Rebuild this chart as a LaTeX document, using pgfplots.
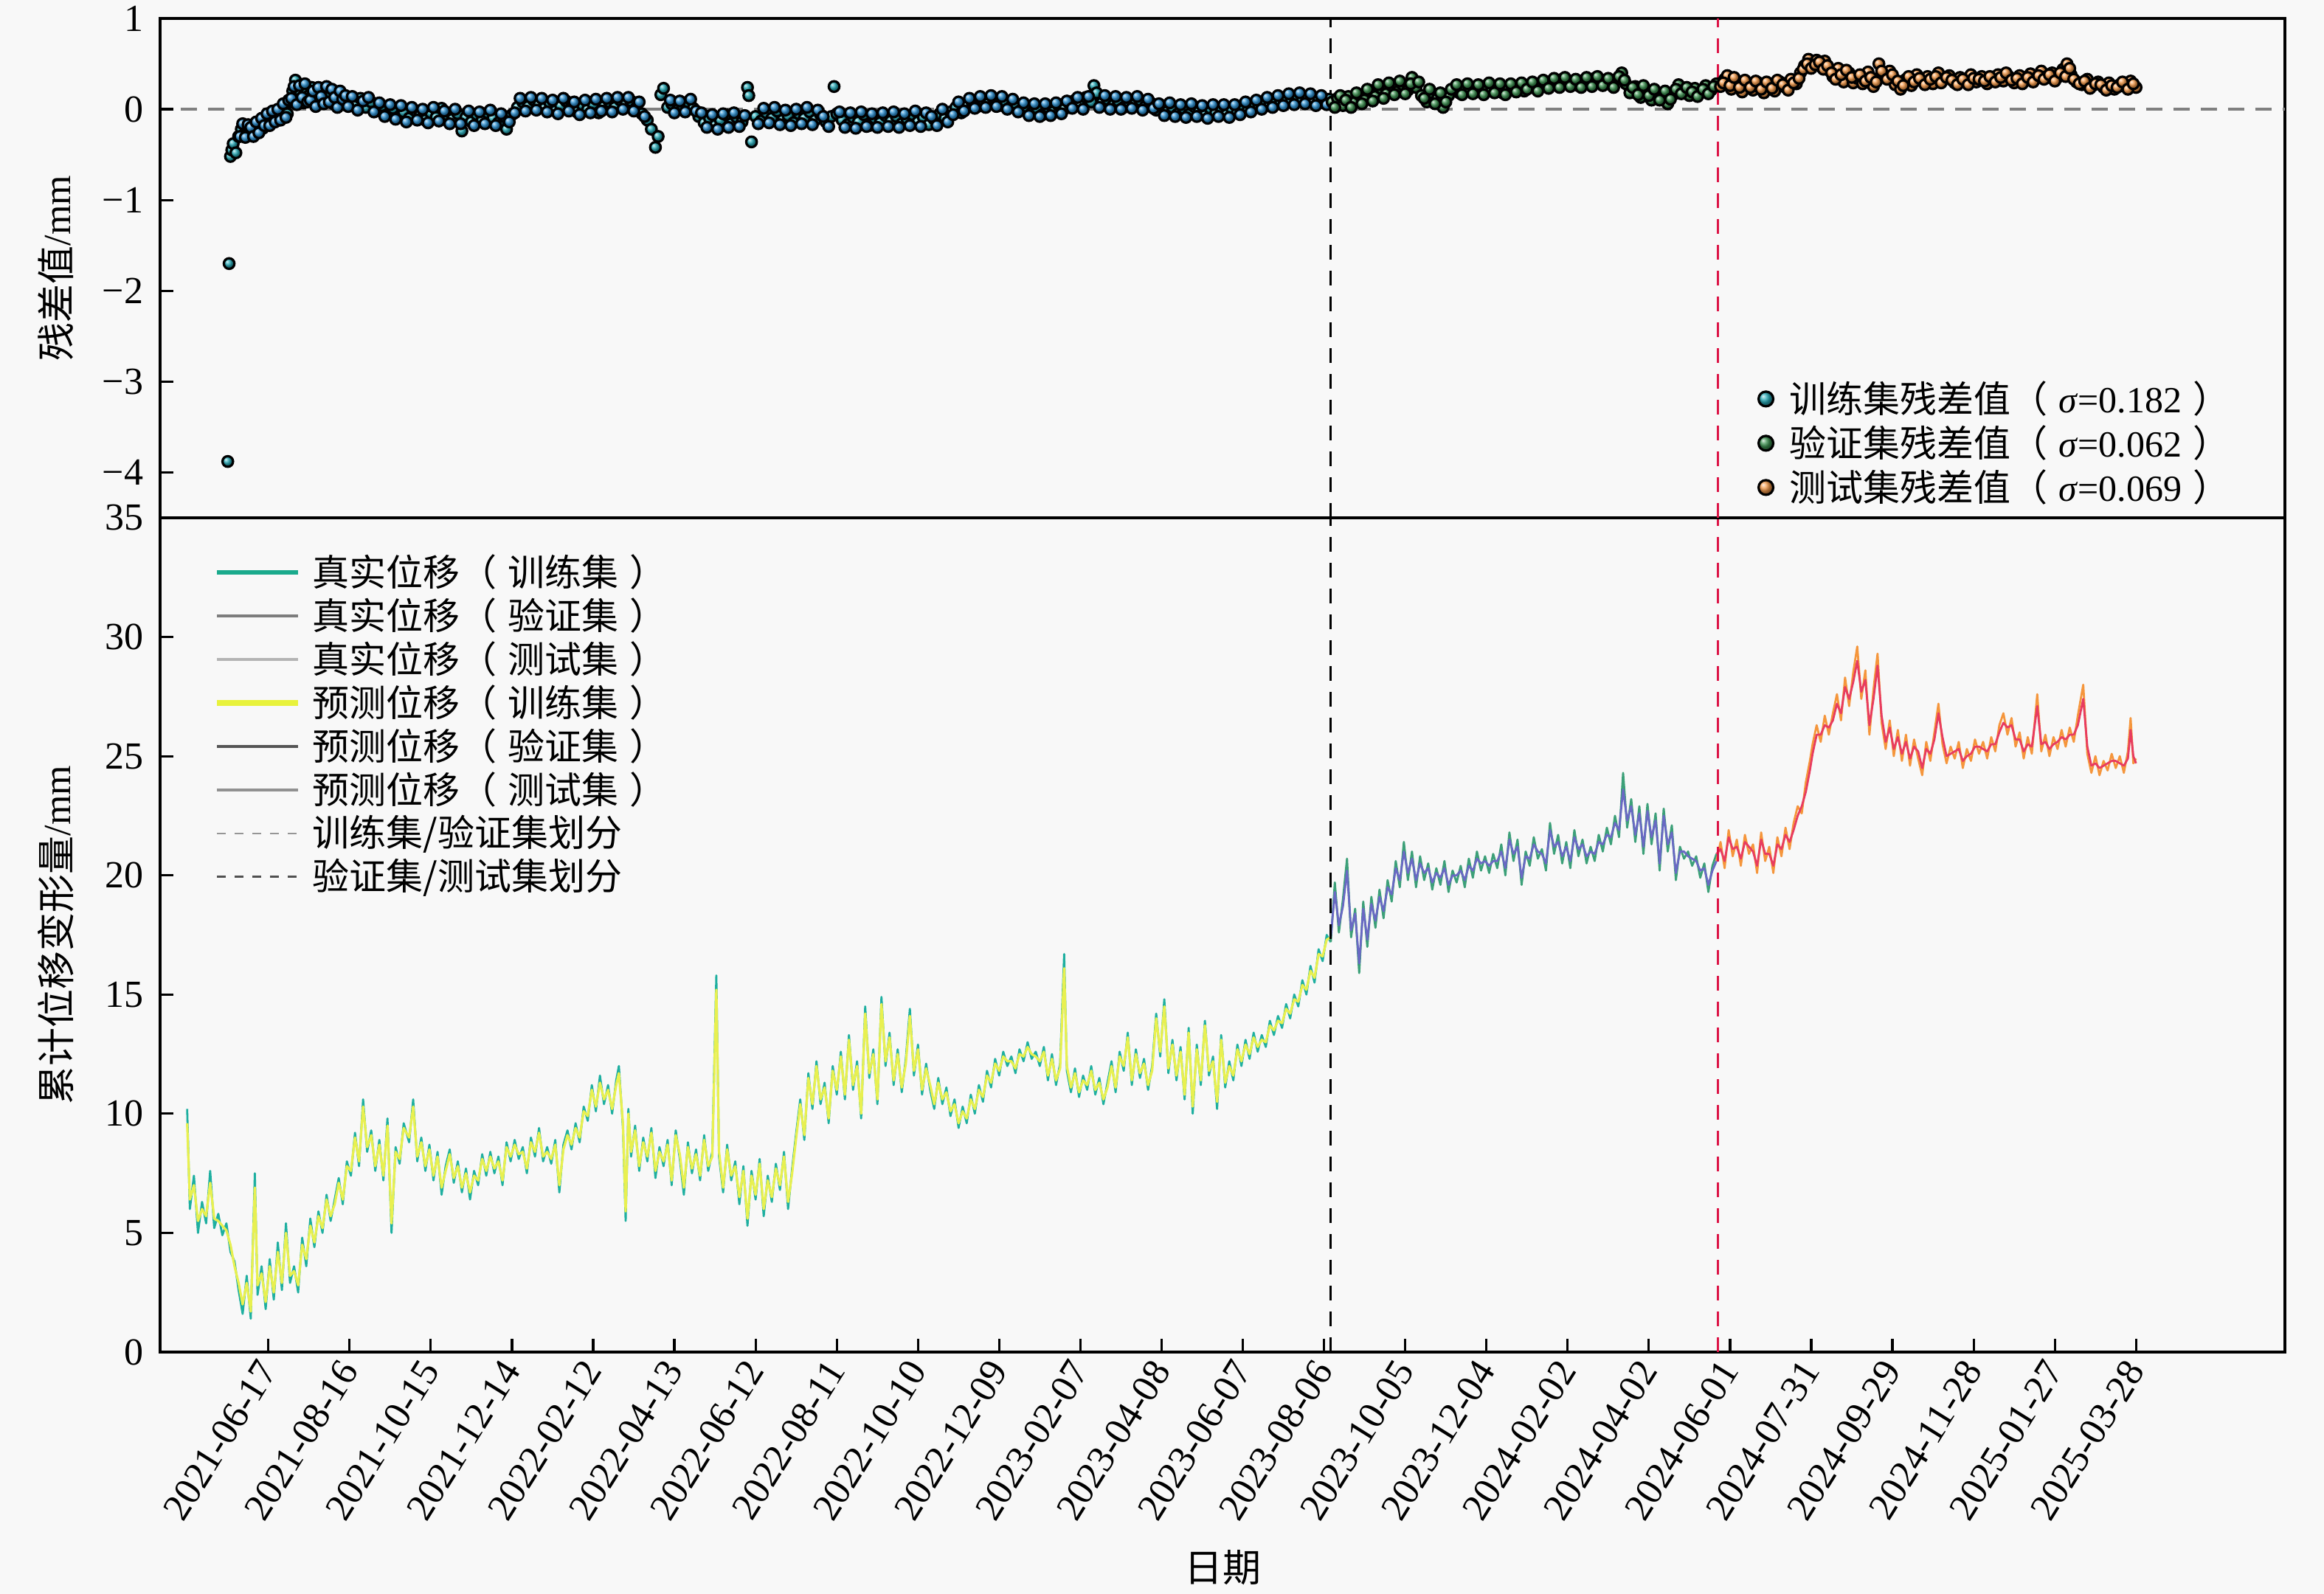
\documentclass[border=0pt]{standalone}
\usepackage{fontspec}
\setmainfont{Liberation Serif}
\newfontfamily\cjk{Noto Sans CJK SC}
\usepackage{pgfplots}
\pgfplotsset{compat=1.18}
\usepackage{pgfplotstable}
\usetikzlibrary{plotmarks}

\definecolor{bgc}{RGB}{248,248,248}
\definecolor{trainball}{RGB}{40,172,185}
\definecolor{trainball2}{RGB}{45,145,210}
\definecolor{valball}{RGB}{60,145,80}
\definecolor{testball}{RGB}{245,155,75}
\definecolor{truetrain}{RGB}{30,175,160}
\definecolor{predtrain}{RGB}{232,240,80}
\definecolor{trueval}{RGB}{60,160,120}
\definecolor{predval}{RGB}{105,105,195}
\definecolor{truetest}{RGB}{245,150,60}
\definecolor{predtest}{RGB}{232,60,95}
\definecolor{splitred}{RGB}{220,20,70}
\definecolor{zerogray}{RGB}{128,128,128}

\pgfplotstableread{
d t p
-60 10.2 9.6
-58 6.0 6.4
-55 7.4 7.0
-52 5.0 5.5
-49 6.3 6.0
-46 5.4 5.7
-43 7.6 7.1
-40 5.2 5.6
-37 5.8 5.5
-34 4.9 5.3
-31 5.4 5.1
-28 4.2 4.5
-25 3.8 3.6
-22 2.6 2.9
-19 1.6 2.0
-16 3.2 2.9
-13 1.4 1.7
-10 7.5 6.9
-8 2.4 2.8
-5 3.6 3.3
-2 1.8 2.1
1 3.9 3.6
4 2.2 2.5
7 4.6 4.2
10 2.6 2.9
13 5.4 5.0
16 2.9 3.2
19 3.6 3.4
22 2.5 2.8
25 4.8 4.5
28 3.6 3.9
31 5.6 5.3
34 4.4 4.6
37 5.9 5.7
40 5.0 5.2
43 6.6 6.4
46 5.5 5.7
49 6.4 6.2
52 7.3 7.1
55 6.2 6.4
58 8.0 7.8
61 7.4 7.6
64 9.2 9.0
67 7.8 8.0
70 10.6 10.3
73 8.4 8.6
76 9.3 9.1
79 7.6 7.8
82 8.9 8.7
85 7.2 7.4
88 9.8 9.5
91 5.0 5.4
94 8.6 8.4
97 7.9 8.1
100 9.6 9.4
104 8.8 9.0
107 10.6 10.3
110 8.0 8.2
113 9.0 8.8
116 7.6 7.8
119 8.7 8.5
122 7.2 7.4
125 8.4 8.2
128 6.6 6.9
131 7.8 7.6
134 8.5 8.3
137 7.1 7.3
140 8.0 7.8
143 6.7 6.9
146 7.7 7.5
149 6.4 6.7
152 7.6 7.4
155 7.0 7.2
158 8.3 8.1
161 7.4 7.6
164 8.4 8.2
167 7.5 7.7
170 8.2 8.0
173 7.0 7.2
176 8.8 8.6
179 8.0 8.2
182 8.9 8.7
185 8.1 8.3
188 8.6 8.4
191 7.5 7.7
194 9.0 8.8
197 8.2 8.4
200 9.4 9.2
203 8.0 8.2
206 8.6 8.4
209 7.9 8.1
212 8.9 8.7
215 6.7 7.0
218 8.7 8.5
221 9.3 9.1
224 8.5 8.7
227 9.6 9.4
230 8.8 9.0
233 10.3 10.1
236 9.7 9.9
239 11.2 11.0
242 10.1 10.3
245 11.6 11.3
248 10.4 10.6
251 11.2 11.0
254 10.0 10.2
257 11.4 11.2
259 12.0 11.7
262 9.4 9.6
264 5.5 5.9
266 10.2 10.0
268 8.2 8.4
271 9.5 9.3
274 7.6 7.8
277 9.0 8.8
280 8.0 8.2
283 9.4 9.2
286 7.3 7.6
289 8.6 8.4
292 7.8 8.0
295 8.9 8.7
298 7.0 7.2
301 9.3 9.1
304 8.1 8.3
307 6.6 6.9
310 8.8 8.6
313 7.5 7.7
316 8.5 8.3
319 7.2 7.4
322 9.1 8.9
325 7.6 7.8
328 8.4 8.2
331 15.8 15.2
333 8.2 8.4
336 6.7 6.9
339 8.7 8.5
342 7.2 7.4
345 8.0 7.8
348 6.2 6.5
351 7.8 7.6
354 5.3 5.6
357 7.6 7.4
360 6.4 6.6
363 8.1 7.9
366 5.7 6.0
369 7.4 7.2
372 6.3 6.5
375 7.9 7.7
378 6.8 7.0
381 8.4 8.2
384 6.0 6.3
387 7.7 7.5
390 9.2 9.0
393 10.6 10.4
396 8.9 9.1
399 11.7 11.5
402 10.2 10.4
405 12.2 12.0
408 10.4 10.6
411 11.3 11.1
414 9.6 9.8
417 12.0 11.8
420 10.8 11.0
423 12.6 12.4
426 10.6 10.8
429 13.3 13.1
432 11.0 11.2
435 12.2 12.0
438 9.8 10.0
441 14.5 14.2
444 11.5 11.7
447 12.7 12.5
450 10.4 10.6
453 14.9 14.6
456 12.0 12.2
459 13.4 13.2
462 11.2 11.4
465 12.7 12.5
468 10.9 11.1
471 12.3 12.1
474 14.4 14.1
477 11.6 11.8
480 12.9 12.7
483 10.8 11.0
486 12.1 11.9
489 11.0 11.2
492 10.2 10.4
495 11.5 11.3
498 10.4 10.6
501 11.1 10.9
504 9.9 10.1
507 10.6 10.4
510 9.4 9.6
513 10.3 10.1
516 9.6 9.8
519 10.8 10.6
522 10.0 10.2
525 11.2 11.0
528 10.5 10.7
531 11.8 11.6
534 11.1 11.3
537 12.3 12.1
540 11.6 11.8
543 12.6 12.4
546 12.0 12.2
549 12.4 12.2
552 11.7 11.9
555 12.7 12.5
558 12.2 12.4
561 13.0 12.8
564 12.3 12.5
567 12.6 12.4
570 12.0 12.2
573 12.8 12.6
576 11.4 11.6
579 12.5 12.3
582 11.2 11.4
585 12.1 11.9
588 16.7 16.1
590 11.8 12.0
593 10.9 11.1
596 11.9 11.7
599 10.7 10.9
602 11.6 11.4
605 11.0 11.2
608 12.0 11.8
611 10.8 11.0
614 11.5 11.3
617 10.4 10.6
620 11.3 11.1
623 12.2 12.0
626 10.9 11.1
629 12.6 12.4
632 11.8 12.0
635 13.4 13.2
638 11.2 11.4
641 12.7 12.5
644 11.5 11.7
647 12.3 12.1
650 11.0 11.2
653 12.0 11.8
656 14.2 14.0
659 12.4 12.6
662 14.8 14.5
665 11.7 11.9
668 13.1 12.9
671 11.4 11.6
674 12.8 12.6
677 10.6 10.8
680 13.6 13.4
683 10.0 10.3
686 12.9 12.7
689 11.2 11.4
692 13.9 13.7
695 11.6 11.8
698 12.4 12.2
701 10.2 10.5
704 13.3 13.1
707 11.1 11.3
710 12.2 12.0
713 11.4 11.6
716 12.9 12.7
719 12.0 12.2
722 13.1 12.9
725 12.3 12.5
728 13.4 13.2
731 12.6 12.8
734 13.3 13.1
737 12.8 13.0
740 13.9 13.7
743 13.3 13.5
746 14.1 13.9
749 13.6 13.8
752 14.6 14.4
755 14.0 14.2
758 15.0 14.8
761 14.5 14.7
764 15.6 15.4
767 15.0 15.2
770 16.2 16.0
773 15.5 15.7
776 16.9 16.7
779 16.4 16.6
782 17.5 17.3
785 17.2 17.4
}\trainTbl

\pgfplotstableread{
d t p
785 17.2 17.4
788 19.7 19.3
791 17.6 17.9
794 19.0 18.7
797 20.7 20.2
800 17.4 17.7
803 18.6 18.4
806 15.9 16.3
809 18.9 18.6
812 17.0 17.3
815 19.1 18.8
818 17.8 18.1
821 19.4 19.1
824 18.2 18.5
827 19.8 19.5
830 18.9 19.2
833 20.6 20.3
836 19.5 19.8
839 21.4 21.0
842 19.8 20.1
845 21.0 20.7
848 19.5 19.8
851 20.8 20.5
854 19.8 20.1
857 20.5 20.3
860 19.4 19.7
863 20.3 20.1
866 19.6 19.9
869 20.6 20.3
872 19.3 19.6
875 20.2 20.0
878 19.7 20.0
881 20.4 20.2
884 19.5 19.8
887 20.7 20.4
890 19.9 20.2
893 21.0 20.7
896 20.2 20.5
899 20.8 20.6
902 20.1 20.4
905 20.9 20.6
908 20.3 20.6
911 21.3 21.0
914 20.0 20.3
917 21.8 21.5
920 20.6 20.9
923 21.5 21.2
926 19.6 19.9
929 21.0 20.8
932 20.4 20.7
935 21.6 21.3
938 20.7 21.0
941 21.1 20.9
944 20.2 20.5
947 22.2 21.9
950 20.9 21.2
953 21.7 21.4
956 20.5 20.8
959 21.4 21.2
962 20.3 20.6
965 21.9 21.6
968 20.8 21.1
971 21.5 21.3
974 20.5 20.8
977 21.2 21.0
980 20.6 20.9
983 21.7 21.4
986 21.0 21.3
989 22.0 21.7
992 21.3 21.6
995 22.5 22.2
998 21.6 21.9
1001 24.3 23.6
1004 22.0 22.3
1007 23.2 22.9
1010 21.4 21.7
1013 22.9 22.6
1016 20.9 21.2
1019 23.0 22.7
1022 21.3 21.6
1025 22.6 22.3
1028 20.2 20.5
1031 22.8 22.5
1034 21.0 21.3
1037 22.1 21.8
1040 19.8 20.1
1043 21.2 21.0
1046 20.7 21.0
1049 21.0 20.8
1052 20.4 20.7
1055 20.8 20.6
1058 19.9 20.2
1061 20.5 20.3
1064 19.3 19.6
1067 20.4 20.2
1070 20.9 20.6
}\valTbl

\pgfplotstableread{
d t p
1070 20.6 20.9
1073 21.4 21.1
1076 20.3 20.6
1079 21.9 21.6
1082 20.8 21.1
1085 21.5 21.2
1088 20.4 20.7
1091 21.7 21.4
1094 20.9 21.2
1097 21.3 21.0
1100 20.1 20.4
1103 21.8 21.5
1106 20.6 20.9
1109 21.2 20.9
1112 20.1 20.4
1115 21.6 21.3
1118 20.8 21.1
1121 22.0 21.7
1124 21.1 21.4
1127 22.2 21.9
1130 22.9 22.5
1133 22.6 22.9
1136 23.9 23.5
1139 24.8 24.4
1141 25.5 25.1
1144 26.3 25.9
1147 25.6 25.9
1150 26.7 26.3
1153 25.9 26.2
1156 26.8 26.5
1159 27.6 27.2
1162 26.5 26.8
1165 28.3 27.9
1168 27.1 27.4
1171 28.5 28.1
1174 29.6 29.0
1177 27.4 27.7
1180 28.6 28.2
1183 25.9 26.3
1186 27.8 27.4
1189 29.3 28.8
1192 26.4 26.7
1195 25.3 25.6
1198 26.5 26.2
1201 25.0 25.3
1204 26.1 25.8
1207 24.8 25.1
1210 25.9 25.6
1213 24.6 24.9
1216 25.7 25.4
1219 24.9 25.2
1222 24.2 24.5
1225 25.6 25.3
1228 24.8 25.1
1231 26.0 25.7
1234 27.2 26.8
1237 25.5 25.8
1240 24.7 25.0
1243 25.4 25.1
1246 24.9 25.2
1249 25.6 25.3
1252 24.5 24.8
1255 25.3 25.0
1258 24.8 25.1
1261 25.7 25.4
1264 25.1 25.4
1267 25.6 25.3
1270 24.9 25.2
1273 25.8 25.5
1276 25.2 25.5
1279 26.3 26.0
1282 26.8 26.4
1285 25.9 26.2
1288 26.6 26.3
1291 25.4 25.7
1294 26.0 25.7
1297 24.9 25.2
1300 25.8 25.5
1303 25.1 25.4
1307 27.6 27.1
1310 25.2 25.5
1313 25.9 25.6
1316 25.0 25.3
1319 25.8 25.5
1322 25.3 25.6
1325 26.1 25.8
1328 25.4 25.7
1331 26.2 25.9
1334 25.6 25.9
1337 26.7 26.3
1341 28.0 27.4
1344 25.1 25.4
1347 24.3 24.6
1350 25.0 24.7
1353 24.2 24.5
1356 24.8 24.6
1359 24.4 24.7
1362 25.1 24.8
1365 24.5 24.8
1368 25.0 24.7
1371 24.3 24.6
1374 25.2 24.9
1376 26.6 26.1
1378 24.7 25.0
1380 24.9 24.7
}\testTbl

\newcommand{\lblfont}{\fontsize{13}{15.6}\selectfont}
\newcommand{\legfont}{\fontsize{12.5}{14.75}\selectfont}
\newcommand{\lp}{{\cjk （}\hspace{0.3em}}
\newcommand{\rp}{\hspace{0.3em}{\cjk ）}}

\begin{document}
\begin{tikzpicture}
\path[use as bounding box, fill=bgc] (-54.25pt,-82pt) rectangle (733.25pt,458.25pt);

% ---------------- bottom panel ----------------
\begin{axis}[
  at={(0pt,0pt)}, anchor=south west,
  scale only axis, width=720pt, height=282.75pt,
  xmin=-80, xmax=1490, ymin=0, ymax=35,
  axis line style={line width=0.8pt},
  line width=0.8pt,
  tick pos=left, tick align=inside,
  major tick length=4.6pt,
  every tick/.style={black, line width=0.8pt},
  xtick={0,60,...,1380},
  xticklabels={2021-06-17,2021-08-16,2021-10-15,2021-12-14,2022-02-12,2022-04-13,2022-06-12,2022-08-11,2022-10-10,2022-12-09,2023-02-07,2023-04-08,2023-06-07,2023-08-06,2023-10-05,2023-12-04,2024-02-02,2024-04-02,2024-06-01,2024-07-31,2024-09-29,2024-11-28,2025-01-27,2025-03-28},
  ytick={0,5,...,35},
  /pgf/number format/assume math mode=true,
  tick label style={font=\lblfont},
  xticklabel style={rotate=58, anchor=east, yshift=-2pt},
  yticklabel style={xshift=-2pt},
  xlabel={\cjk 日期},
  ylabel={{\cjk 累计位移变形量}/mm},
  label style={font=\lblfont},
  xlabel style={at={(axis description cs:0.5,0)}, anchor=center, yshift=-73pt},
  ylabel style={at={(axis description cs:0,0.5)}, anchor=center, yshift=35.25pt},
  legend style={draw=none, fill=none, at={(rel axis cs:0,1)}, anchor=north west,
    xshift=15pt, yshift=-8pt, font=\legfont, row sep=-1.45pt,
    /tikz/every odd column/.append style={column sep=2pt}},
  legend cell align=left,
  legend image code/.code={\draw[#1] (0pt,0pt) -- (27.5pt,0pt);},
]
\addplot[truetrain, line width=0.7pt, line join=round, forget plot] table[x=d,y=t]{\trainTbl};
\addplot[predtrain, line width=0.8pt, line join=round, forget plot] table[x=d,y=p]{\trainTbl};
\addplot[trueval, line width=0.7pt, line join=round, forget plot] table[x=d,y=t]{\valTbl};
\addplot[predval, line width=0.7pt, line join=round, forget plot] table[x=d,y=p]{\valTbl};
\addplot[truetest, line width=0.7pt, line join=round, forget plot] table[x=d,y=t]{\testTbl};
\addplot[predtest, line width=0.7pt, line join=round, forget plot] table[x=d,y=p]{\testTbl};
\addplot[black, line width=0.75pt, dash pattern=on 5pt off 3.75pt, forget plot] coordinates {(785,0) (785,35)};
\addplot[splitred, line width=0.75pt, dash pattern=on 5pt off 3.75pt, forget plot] coordinates {(1071,0) (1071,35)};

\addlegendimage{line width=1.3pt, color={rgb,255:red,26;green,170;blue,140}}
\addlegendentry{{\cjk 真实位移}\lp{\cjk 训练集}\rp}
\addlegendimage{line width=0.8pt, color={rgb,255:red,125;green,125;blue,125}}
\addlegendentry{{\cjk 真实位移}\lp{\cjk 验证集}\rp}
\addlegendimage{line width=0.9pt, color={rgb,255:red,180;green,180;blue,180}}
\addlegendentry{{\cjk 真实位移}\lp{\cjk 测试集}\rp}
\addlegendimage{line width=1.8pt, color={rgb,255:red,232;green,242;blue,60}}
\addlegendentry{{\cjk 预测位移}\lp{\cjk 训练集}\rp}
\addlegendimage{line width=0.8pt, color={rgb,255:red,85;green,85;blue,85}}
\addlegendentry{{\cjk 预测位移}\lp{\cjk 验证集}\rp}
\addlegendimage{line width=1.2pt, color={rgb,255:red,145;green,145;blue,145}}
\addlegendentry{{\cjk 预测位移}\lp{\cjk 测试集}\rp}
\addlegendimage{line width=0.6pt, color={rgb,255:red,150;green,150;blue,150}, dash pattern=on 3pt off 3pt}
\addlegendentry{{\cjk 训练集/验证集划分}}
\addlegendimage{line width=0.6pt, color={rgb,255:red,80;green,80;blue,80}, dash pattern=on 3pt off 3pt}
\addlegendentry{{\cjk 验证集/测试集划分}}
\end{axis}

% ---------------- top panel ----------------
\begin{axis}[
  at={(0pt,282.75pt)}, anchor=south west,
  scale only axis, width=720pt, height=169.25pt,
  xmin=-80, xmax=1490, ymin=-4.5, ymax=1,
  axis line style={line width=0.8pt},
  line width=0.8pt,
  tick pos=left, tick align=inside,
  major tick length=4.6pt,
  every tick/.style={black, line width=0.8pt},
  xtick=\empty,
  ytick={-4,-3,-2,-1,0,1},
  yticklabels={−4,−3,−2,−1,0,1},
  tick label style={font=\lblfont},
  yticklabel style={xshift=-2pt},
  ylabel={{\cjk 残差值}/mm},
  label style={font=\lblfont},
  ylabel style={at={(axis description cs:0,0.5)}, anchor=center, yshift=35.25pt},
  legend style={draw=none, fill=none, at={(rel axis cs:0.747,0.30)}, anchor=north west,
    font=\legfont, row sep=-1.2pt,
    /tikz/every odd column/.append style={column sep=3pt}},
  legend cell align=left,
  legend image code/.code={\draw[#1] plot coordinates {(0pt,0pt)};},
]
\addplot[zerogray, line width=0.9pt, dash pattern=on 5.5pt off 3.75pt, forget plot] coordinates {(-65,0) (1490,0)};

\addplot[only marks, mark=ball, mark size=1.8pt, mark options={ball color=trainball}, forget plot] coordinates {
(-30,-3.88) (-29,-1.70) (-28,-0.52) (-27,-0.45) (-26,-0.38) (-24,-0.48) (-22,-0.30) (-20,-0.22) (-18,-0.28) (-16,-0.19) (-14,-0.25) (-12,-0.27) (-10,-0.20) (-8,-0.24) (-6,-0.16) (-4,-0.21) (-2,-0.12) (0,-0.15) (2,-0.08) (4,-0.11) (6,-0.04) (8,-0.09) (10,-0.02) (12,0.03) (14,-0.05) (16,0.08) (18,0.20) (20,0.32) (22,0.12) (24,0.18) (26,0.07) (28,0.22) (30,0.15) (32,0.24) (34,0.10) (36,0.19) (38,0.08) (40,0.16) (42,0.21) (44,0.12) (46,0.18) (48,0.06) (50,0.14) (52,0.10) (54,0.17) (56,0.05) (58,0.12)
(60,0.10) (64,0.05) (68,0.12) (72,0.02) (76,0.08) (80,-0.02) (84,0.04) (88,-0.06) (92,0.01) (96,-0.09) (100,-0.03) (104,-0.10) (108,-0.01) (112,-0.07) (116,-0.12) (120,-0.04) (124,-0.09) (128,0.01) (132,-0.06) (136,-0.11) (140,-0.05) (143,-0.24) (146,-0.09) (150,-0.14) (154,-0.06) (158,-0.12) (162,-0.04) (166,-0.10) (170,-0.15) (174,-0.08) (176,-0.22) (180,-0.06) (184,0.02) (188,0.08) (192,0.03) (196,0.10) (200,0.05) (204,0.01) (208,0.07) (212,-0.02) (216,0.04) (220,0.09) (224,0.02) (228,-0.03) (232,0.05) (236,0.00) (240,0.06) (244,-0.04) (248,0.03) (252,0.08) (256,0.02) (260,0.10) (264,0.05) (268,0.09) (272,0.02) (276,-0.05) (280,-0.12) (283,-0.22) (286,-0.42) (288,-0.30) (290,0.16) (292,0.23) (295,0.02) (298,0.06) (302,-0.01) (306,0.04) (310,0.08) (314,0.01) (318,-0.08) (322,-0.15) (326,-0.10) (330,-0.18) (334,-0.12) (338,-0.06) (342,-0.16) (346,-0.09) (350,-0.14) (354,0.24) (355,0.15) (357,-0.36) (360,-0.08) (364,-0.13) (368,-0.04) (372,-0.10) (376,-0.02) (380,-0.12) (384,-0.07) (388,-0.15) (392,-0.05) (396,-0.10) (400,-0.03) (404,-0.12) (408,-0.06) (412,-0.14) (416,-0.08) (418,0.25) (420,-0.05) (424,-0.12) (428,-0.17) (432,-0.09) (436,-0.14) (440,-0.06) (444,-0.18) (448,-0.10) (452,-0.15) (456,-0.07) (460,-0.13) (464,-0.08) (468,-0.16) (472,-0.11) (476,-0.06) (480,-0.14) (484,-0.09) (488,-0.17) (492,-0.11) (496,-0.05) (500,-0.10) (504,-0.03) (508,0.02) (512,-0.04) (516,0.05) (520,0.08) (524,0.03) (528,0.10) (532,0.06) (536,0.12) (540,0.04) (544,0.09) (548,0.02) (552,0.06) (556,-0.01) (560,0.03) (564,-0.04) (568,0.01) (572,-0.06) (576,0.02) (580,-0.03) (584,0.04) (588,0.00) (592,0.06) (596,0.10) (600,0.05) (604,0.13) (608,0.08) (610,0.26) (612,0.18) (616,0.07) (620,0.11) (624,0.04) (628,0.09) (632,0.02) (636,0.08) (640,0.05) (644,0.10) (648,0.03) (652,0.07) (656,-0.01) (660,0.04) (664,-0.03) (668,0.02) (672,-0.05) (676,0.01) (680,-0.06) (684,0.03) (688,-0.02) (692,-0.07) (696,0.01) (700,-0.04) (704,0.02) (708,-0.06) (712,0.00) (716,-0.03) (720,0.04) (724,-0.01) (728,0.06) (732,0.02) (736,0.09) (740,0.04) (744,0.11) (748,0.07) (752,0.13) (756,0.09) (760,0.15) (764,0.10) (768,0.14) (772,0.08) (776,0.12) (780,0.07) (784,0.11)
};
\addplot[only marks, mark=ball, mark size=1.8pt, mark options={ball color=trainball2}, forget plot] coordinates {
(-21,-0.30) (-19,-0.16) (-17,-0.31) (-15,-0.17) (-13,-0.20) (-11,-0.30) (-9,-0.14) (-7,-0.26) (-5,-0.10) (-3,-0.18) (-1,-0.05) (1,-0.18) (3,-0.02) (5,-0.14) (7,0.00) (9,-0.12) (11,0.06) (13,-0.09) (15,0.10)
(17,0.12) (19,0.25) (21,0.05) (23,0.26) (25,0.13) (27,0.28) (29,0.08) (31,0.10) (33,0.20) (35,0.03) (37,0.24) (39,0.14) (41,0.06) (43,0.25) (45,0.08) (47,0.22) (49,0.13) (51,0.02) (53,0.20) (55,0.11) (57,0.15) (59,0.03)
(62,0.14) (66,-0.01) (70,0.09) (74,0.13) (78,-0.03) (82,0.07) (86,-0.08) (90,0.05) (94,-0.11) (98,0.04) (102,-0.14) (106,0.02) (110,-0.12) (114,0.00) (118,-0.15) (122,0.02) (126,-0.13) (130,-0.02) (134,-0.16) (138,0.00) (142,-0.16) (148,-0.02) (152,-0.18) (156,-0.03) (160,-0.16) (164,-0.01) (168,-0.18) (172,-0.05) (178,-0.14)
(182,-0.04) (186,0.12) (190,-0.02) (194,0.13) (198,-0.01) (202,0.12) (206,-0.03) (210,0.10) (214,-0.05) (218,0.12) (222,-0.02) (226,0.08) (230,-0.06) (234,0.10) (238,-0.04) (242,0.11) (246,-0.02) (250,0.12) (254,-0.03) (258,0.13) (262,0.00) (266,0.13) (270,-0.02) (274,0.08) (278,-0.08)
(297,0.10) (300,-0.04) (304,0.09) (308,-0.03) (312,0.11) (316,-0.02) (320,-0.04) (324,-0.20) (328,-0.06) (332,-0.22) (336,-0.05) (340,-0.20) (344,-0.04) (348,-0.19) (352,-0.07)
(362,-0.16) (366,0.01) (370,-0.15) (374,0.02) (378,-0.17) (382,-0.01) (386,-0.18) (390,0.00) (394,-0.16) (398,0.02) (402,-0.17) (406,-0.01) (410,-0.08) (414,-0.19)
(422,-0.03) (426,-0.20) (430,-0.04) (434,-0.21) (438,-0.03) (442,-0.19) (446,-0.05) (450,-0.20) (454,-0.04) (458,-0.19) (462,-0.03) (466,-0.20) (470,-0.05) (474,-0.18) (478,-0.02) (482,-0.19) (486,-0.04) (490,-0.08) (494,-0.18) (498,0.00) (502,-0.14)
(506,-0.06) (510,0.08) (514,-0.02) (518,0.12) (522,0.01) (526,0.14) (530,0.02) (534,0.15) (538,0.03) (542,0.14) (546,0.00) (550,0.11) (554,-0.03)
(558,0.07) (562,-0.07) (566,0.06) (570,-0.08) (574,0.06) (578,-0.07) (582,0.07) (586,-0.05) (590,0.09) (594,0.01) (598,0.13)
(602,0.00) (606,0.14) (614,0.02) (618,0.15) (622,0.00) (626,0.14) (630,0.00) (634,0.13) (638,0.01) (642,0.14) (646,-0.01) (650,0.11) (654,0.01)
(658,0.06) (662,-0.07) (666,0.07) (670,-0.08) (674,0.05) (678,-0.09) (682,0.06) (686,-0.08) (690,0.04) (694,-0.10) (698,0.05) (702,-0.08) (706,0.05) (710,-0.09) (714,0.05) (718,-0.06)
(722,0.08) (726,-0.03) (730,0.10) (734,0.00) (738,0.13) (742,0.02) (746,0.15) (750,0.04) (754,0.17) (758,0.05) (762,0.18) (766,0.06) (770,0.17) (774,0.04) (778,0.15) (782,0.05)
};

\addplot[only marks, mark=ball, mark size=1.8pt, mark options={ball color=valball}, forget plot] coordinates {
(786,0.08) (790,0.12) (794,0.04) (798,0.14) (802,0.07) (806,0.16) (810,0.10) (814,0.20) (818,0.14) (822,0.23) (826,0.17) (830,0.26) (834,0.19) (838,0.27) (842,0.21) (845,0.35) (848,0.24) (852,0.15) (856,0.08) (860,0.18) (864,0.12) (868,0.02) (872,0.15) (876,0.23) (880,0.18) (884,0.25) (888,0.20) (892,0.24) (896,0.19) (900,0.26) (904,0.21) (908,0.24) (912,0.18) (916,0.25) (920,0.22) (924,0.26) (928,0.20) (932,0.27) (936,0.23) (940,0.29) (944,0.26) (948,0.31) (952,0.27) (956,0.33) (960,0.28) (964,0.30) (968,0.26) (972,0.32) (976,0.28) (980,0.34) (984,0.29) (988,0.31) (992,0.27) (996,0.33) (1000,0.40) (1003,0.28) (1006,0.18) (1010,0.25) (1014,0.13) (1018,0.21) (1022,0.10) (1026,0.17) (1030,0.12) (1034,0.06) (1038,0.16) (1042,0.27) (1046,0.20) (1050,0.15) (1054,0.23) (1058,0.18) (1062,0.26) (1066,0.21) (1070,0.28)
(788,0.02) (792,0.15) (796,0.10) (800,0.02) (804,0.18) (808,0.06) (812,0.22) (816,0.09) (820,0.27) (824,0.12) (828,0.29) (832,0.16) (836,0.31) (840,0.17) (844,0.28) (850,0.30) (854,0.12) (858,0.22) (862,0.06) (866,0.18) (870,0.08) (874,0.22) (878,0.27) (882,0.16) (886,0.28) (890,0.17) (894,0.27) (898,0.16) (902,0.29) (906,0.18) (910,0.28) (914,0.16) (918,0.28) (922,0.19) (926,0.29) (930,0.22) (934,0.30) (938,0.20) (942,0.32) (946,0.23) (950,0.34) (954,0.24) (958,0.35) (962,0.25) (966,0.33) (970,0.24) (974,0.35) (978,0.25) (982,0.36) (986,0.26) (990,0.34) (994,0.24) (998,0.36) (1002,0.32) (1008,0.24) (1012,0.16) (1016,0.26) (1020,0.15) (1024,0.22) (1028,0.10) (1032,0.20) (1036,0.11) (1040,0.22) (1044,0.17) (1048,0.24) (1052,0.19) (1056,0.14) (1060,0.22) (1064,0.17) (1068,0.25)
};

\addplot[only marks, mark=ball, mark size=1.8pt, mark options={ball color=testball}, forget plot] coordinates {
(1073,0.25) (1076,0.33) (1078,0.37) (1081,0.22) (1085,0.30) (1089,0.19) (1093,0.27) (1097,0.21) (1101,0.29) (1105,0.18) (1109,0.26) (1113,0.20) (1117,0.30) (1121,0.24) (1125,0.33) (1129,0.28) (1132,0.40) (1135,0.48) (1138,0.55) (1141,0.50) (1144,0.54) (1147,0.47) (1150,0.53) (1153,0.43) (1156,0.36) (1160,0.45) (1164,0.30) (1168,0.40) (1171,0.29) (1174,0.34) (1178,0.28) (1182,0.41) (1186,0.25) (1190,0.50) (1193,0.36) (1198,0.42) (1202,0.27) (1206,0.22) (1210,0.33) (1214,0.26) (1218,0.38) (1222,0.31) (1226,0.36) (1230,0.28) (1234,0.40) (1238,0.33) (1242,0.37) (1246,0.29) (1250,0.35) (1254,0.31) (1258,0.38) (1262,0.30) (1266,0.36) (1270,0.28) (1274,0.34) (1278,0.38) (1282,0.31) (1286,0.36) (1290,0.29) (1294,0.37) (1298,0.32) (1302,0.39) (1306,0.34) (1310,0.42) (1314,0.36) (1318,0.40) (1322,0.35) (1326,0.44) (1329,0.50) (1332,0.38) (1336,0.30) (1340,0.27) (1344,0.33) (1348,0.26) (1352,0.30) (1356,0.24) (1360,0.29) (1364,0.22) (1368,0.27) (1372,0.25) (1376,0.31) (1380,0.24)
(1075,0.29) (1080,0.26) (1083,0.35) (1087,0.24) (1091,0.32) (1095,0.24) (1099,0.31) (1103,0.22) (1107,0.30) (1111,0.23) (1115,0.32) (1119,0.27) (1123,0.21) (1127,0.29) (1131,0.34) (1134,0.44) (1137,0.50) (1140,0.45) (1143,0.49) (1146,0.52) (1149,0.44) (1152,0.48) (1155,0.40) (1158,0.33) (1162,0.38) (1166,0.43) (1170,0.35) (1176,0.38) (1180,0.31) (1184,0.35) (1188,0.30) (1192,0.42) (1196,0.33) (1200,0.38) (1204,0.31) (1208,0.26) (1212,0.36) (1216,0.30) (1220,0.34) (1224,0.27) (1228,0.33) (1232,0.36) (1236,0.29) (1240,0.35) (1244,0.32) (1248,0.27) (1252,0.33) (1256,0.27) (1260,0.34) (1264,0.33) (1268,0.31) (1272,0.36) (1276,0.30) (1280,0.35) (1284,0.40) (1288,0.32) (1292,0.34) (1296,0.28) (1300,0.35) (1304,0.30) (1308,0.37) (1312,0.33) (1316,0.38) (1320,0.31) (1324,0.40) (1328,0.36) (1331,0.45) (1334,0.33) (1338,0.28) (1342,0.31) (1346,0.23) (1350,0.28) (1354,0.27) (1358,0.21) (1362,0.26) (1366,0.24) (1370,0.30) (1374,0.22) (1378,0.28)
};

\addplot[black, line width=0.75pt, dash pattern=on 5pt off 3.75pt, forget plot] coordinates {(785,-4.5) (785,1)};
\addplot[splitred, line width=0.75pt, dash pattern=on 5pt off 3.75pt, forget plot] coordinates {(1071,-4.5) (1071,1)};

\addlegendimage{only marks, mark=ball, mark size=2.5pt, mark options={ball color=trainball}}
\addlegendentry{{\cjk 训练集残差值}\lp\textit{σ}=0.182\rp}
\addlegendimage{only marks, mark=ball, mark size=2.5pt, mark options={ball color=valball}}
\addlegendentry{{\cjk 验证集残差值}\lp\textit{σ}=0.062\rp}
\addlegendimage{only marks, mark=ball, mark size=2.5pt, mark options={ball color=testball}}
\addlegendentry{{\cjk 测试集残差值}\lp\textit{σ}=0.069\rp}
\end{axis}
\end{tikzpicture}
\end{document}
